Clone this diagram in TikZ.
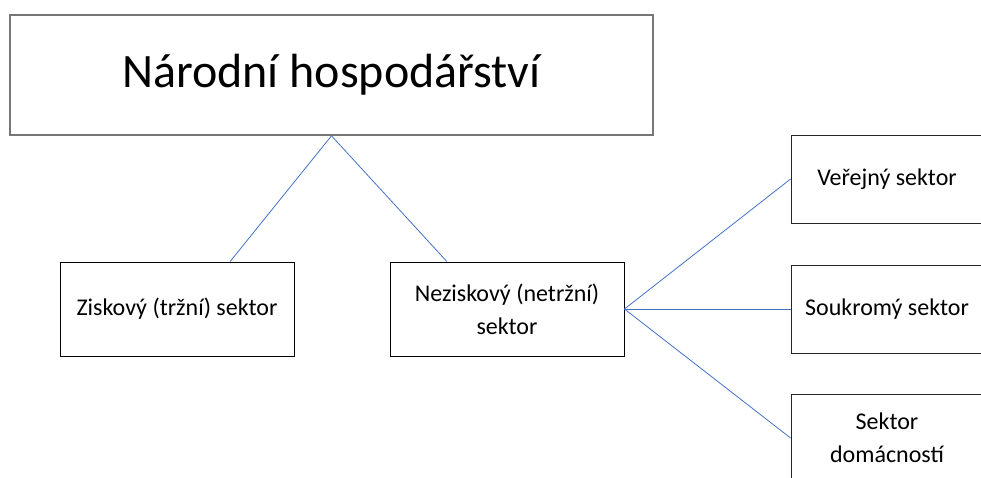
\documentclass[tikz,border=0pt]{standalone}
\usepackage{fontspec}
\setmainfont{Carlito}
\usetikzlibrary{calc}
\definecolor{linkblue}{HTML}{4472C4}
\definecolor{edgegray}{HTML}{767676}
\tikzset{
  sectorbox/.style={draw=black, line width=0.9pt, minimum width=234pt, minimum height=94pt,
    inner sep=0pt, align=center, font=\fontsize{24}{33}\selectfont},
  sidebox/.style={draw=black!85, line width=0.9pt, minimum width=192pt, minimum height=88pt,
    inner sep=0pt, align=center, font=\fontsize{24}{33}\selectfont},
  link/.style={draw=linkblue, line width=0.8pt}
}
\begin{document}
\begin{tikzpicture}[x=1pt,y=-1pt]
\useasboundingbox (0,0) rectangle (981,477);
\clip (0,0) rectangle (981,477);

\node[draw=edgegray, line width=1.6pt, minimum width=643pt, minimum height=120pt, inner sep=0pt,
  font=\fontsize{48}{54}\selectfont] (hosp) at (331.5,75) {Národní hospodářství};

\node[sectorbox] (zisk) at (177,309) {Ziskový (tržní) sektor};
\node[sectorbox] (nezisk) at (507,309) {Neziskový (netržní)\\sektor};

\node[sidebox] (verej) at (887,179) {Veřejný sektor};
\node[sidebox] (soukr) at (887,309) {Soukromý sektor};
\node[sidebox] (domac) at (887,438) {Sektor\\domácností};

\path[link] (hosp.south) -- ($(zisk.north west)!0.726!(zisk.north east)$);
\path[link] (hosp.south) -- ($(nezisk.north west)!0.244!(nezisk.north east)$);

\path[link] (nezisk.east) -- (verej.west);
\path[link] (nezisk.east) -- (soukr.west);
\path[link] (nezisk.east) -- (domac.west);

\end{tikzpicture}
\end{document}
